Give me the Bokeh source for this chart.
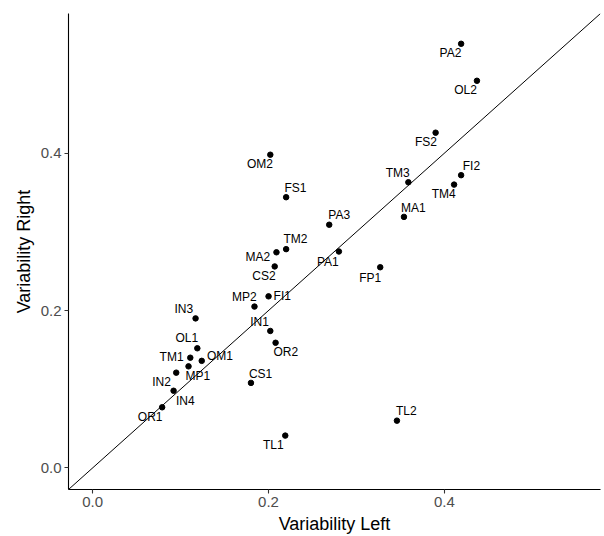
from bokeh.plotting import figure
from bokeh.models import ColumnDataSource, Slope, FixedTicker, Range1d
from bokeh.embed import file_html
from bokeh.resources import INLINE
from bokeh.core.properties import value

# ---- data ----
labels = ["PA2", "OL2", "FS2", "FI2", "TM4", "TM3", "MA1", "OM2", "FS1", "PA3",
          "TM2", "MA2", "PA1", "CS2", "FP1", "FI1", "MP2", "IN3", "IN1", "OR2",
          "OL1", "TM1", "OM1", "MP1", "IN2", "CS1", "IN4", "OR1", "TL1", "TL2"]
variability_left = [0.419, 0.437, 0.390, 0.419, 0.411, 0.359, 0.354, 0.202, 0.220, 0.269,
                    0.220, 0.209, 0.280, 0.207, 0.327, 0.200, 0.184, 0.117, 0.202, 0.208,
                    0.119, 0.111, 0.124, 0.109, 0.095, 0.180, 0.092, 0.079, 0.219, 0.346]
variability_right = [0.539, 0.492, 0.426, 0.372, 0.360, 0.363, 0.319, 0.398, 0.344, 0.309,
                     0.278, 0.274, 0.275, 0.256, 0.255, 0.218, 0.205, 0.190, 0.174, 0.159,
                     0.152, 0.140, 0.136, 0.129, 0.121, 0.108, 0.098, 0.077, 0.041, 0.060]
tick_values = [0.0, 0.2, 0.4]
tick_labels = ["0.0", "0.2", "0.4"]
axis_limits = [0.0, 0.55]

# label placement (screen px offsets from each point, repel-like)
label_dx = [-10.7, -11.4, -9.7, 10.3, -10.4, -10.6, 9.3, -10.4, 9.3, 10,
            9.3, -18.7, -11, -10.7, -10, 13.7, -10.2, -11.7, -10.7, 10.2,
            -10.6, -18.7, 18.3, 9.3, -14.7, 9.6, 11.7, -12, -11.9, 9.3]
label_dy = [9.3, 9.3, 9.4, -9.3, 9.3, -9.2, -9.3, 9.7, -9.7, -9.3,
            -10, 5, 10, 9.9, 10.3, 0, -9.8, -9.7, -9, 8.8,
            -10.7, -0.6, -5, 9.7, 9.7, -8.9, 10.4, 10, 9, -9.7]

FONT = "Liberation Sans"

span = axis_limits[1] - axis_limits[0]
lo = axis_limits[0] - 0.05 * span
hi = axis_limits[1] + 0.05 * span

src = ColumnDataSource(dict(x=variability_left, y=variability_right, lab=labels,
                            dx=label_dx, dy=label_dy))

p = figure(width=604, height=536, output_backend="svg", toolbar_location=None,
           x_range=Range1d(lo, hi), y_range=Range1d(lo, hi),
           min_border_left=68, min_border_right=4, min_border_top=13, min_border_bottom=47)
p.outline_line_color = None
p.background_fill_color = "white"
p.border_fill_color = "white"
p.xgrid.visible = False
p.ygrid.visible = False

p.add_layout(Slope(gradient=1, y_intercept=0, line_color="black", line_width=1))

p.scatter("x", "y", source=src, size=5.5, color="black")
p.text("x", "y", text="lab", source=src, x_offset="dx", y_offset="dy",
       text_align="center", text_baseline="middle", text_font=value(FONT),
       text_font_size="12px", text_color="black")

for ax, title in ((p.xaxis, "Variability Left"), (p.yaxis, "Variability Right")):
    ax.ticker = FixedTicker(ticks=tick_values)
    ax.major_label_overrides = {v: s for v, s in zip(tick_values, tick_labels)}
    ax.axis_label = title
    ax.axis_line_color = "black"
    ax.axis_line_width = 1.1
    ax.major_tick_line_color = "#333333"
    ax.major_tick_line_width = 1.1
    ax.major_tick_out = 4
    ax.major_tick_in = 0
    ax.minor_tick_line_color = None
    ax.major_label_text_font = FONT
    ax.major_label_text_font_size = "15px"
    ax.major_label_text_color = "#4d4d4d"
    ax.major_label_standoff = 3
    ax.axis_label_text_font = FONT
    ax.axis_label_text_font_size = "18px"
    ax.axis_label_text_font_style = "normal"
    ax.axis_label_text_color = "black"
    ax.axis_label_standoff = 4

open("out.html", "w").write(file_html(p, INLINE))
